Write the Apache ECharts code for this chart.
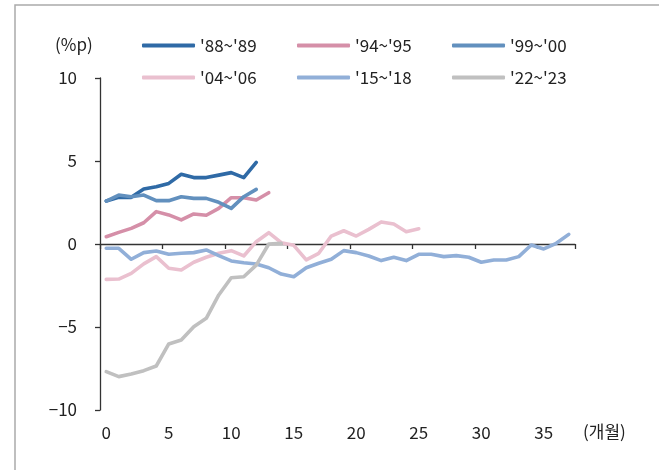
<!DOCTYPE html>
<html><head><meta charset="utf-8">
<script src="https://cdn.jsdelivr.net/npm/echarts@6/dist/echarts.min.js"></script>
<style>html,body{margin:0;padding:0;background:#fff}#c{width:659px;height:470px}</style>
</head><body><div id="c"></div>
<script>
const months = Array.from({length: 38}, (_, i) => String(i));
const yTicks = [-10, -5, 0, 5, 10];
const names = ["'88~'89", "'94~'95", "'99~'00", "'04~'06", "'15~'18", "'22~'23"];
const colors = ['#2F6AA6', '#D58FA8', '#6290BE', '#EAC0CF', '#91AFD8', '#C0C0C0'];
const s8889 = [2.59, 2.81, 2.81, 3.31, 3.45, 3.65, 4.2, 4.0, 4.0, 4.15, 4.3, 4.0, 4.92];
const s9495 = [0.44, 0.70, 0.94, 1.28, 1.95, 1.75, 1.45, 1.81, 1.73, 2.15, 2.79, 2.79, 2.65, 3.09];
const s9900 = [2.59, 2.95, 2.85, 2.95, 2.61, 2.61, 2.85, 2.75, 2.75, 2.51, 2.15, 2.85, 3.29];
const s0406 = [-2.13, -2.11, -1.77, -1.2, -0.76, -1.46, -1.57, -1.1, -0.8, -0.56, -0.40, -0.72, 0.14, 0.68, 0.08, -0.08, -0.96, -0.56, 0.48, 0.80, 0.48, 0.88, 1.33, 1.2, 0.74, 0.92];
const s1518 = [-0.26, -0.26, -0.92, -0.52, -0.42, -0.62, -0.56, -0.52, -0.36, -0.7, -1.02, -1.13, -1.2, -1.43, -1.81, -1.97, -1.43, -1.16, -0.92, -0.4, -0.52, -0.72, -1.0, -0.8, -1.0, -0.62, -0.62, -0.76, -0.7, -0.8, -1.1, -0.96, -0.96, -0.76, -0.06, -0.3, 0.04, 0.58];
const s2223 = [-7.69, -7.99, -7.83, -7.63, -7.35, -6.02, -5.78, -4.98, -4.48, -3.07, -2.03, -1.97, -1.27, 0.0, 0.04];
const seriesData = [s8889, s9495, s9900, s0406, s1518, s2223];

const FONT = "'Noto Sans CJK KR', 'Noto Sans', sans-serif";
const chart = echarts.init(document.getElementById('c'), null, {renderer: 'canvas'});
const legendPos = [[142, 37], [297, 37], [452, 37], [142, 69], [297, 69], [452, 69]];
chart.setOption({
  animation: false,
  grid: {left: 100, right: 84, top: 78, bottom: 60, containLabel: false},
  legend: names.map((n, i) => ({
    data: [n], left: legendPos[i][0], top: legendPos[i][1],
    icon: 'roundRect', itemWidth: 53, itemHeight: 4, itemGap: 0,
    padding: 0,
    textStyle: {fontFamily: FONT, fontSize: 17, color: '#222', padding: [0, 0, 0, 0]}
  })),
  xAxis: [{
    type: 'category', data: months, boundaryGap: true,
    axisLine: {onZero: true, lineStyle: {color: '#333', width: 1.3}},
    axisTick: {show: true, inside: false, interval: 4, length: 5, lineStyle: {color: '#333', width: 1.3}},
    axisLabel: {show: false}, splitLine: {show: false}
  }, {
    type: 'category', data: months, boundaryGap: true, position: 'bottom',
    axisLine: {show: false}, axisTick: {show: false},
    axisLabel: {show: true, interval: 4, margin: 14, fontFamily: FONT, fontSize: 17, color: '#222'}
  }],
  yAxis: {
    type: 'value', min: yTicks[0], max: yTicks[yTicks.length - 1], interval: 5,
    axisLine: {show: true, lineStyle: {color: '#333', width: 1.3}},
    axisTick: {show: true, length: 5, lineStyle: {color: '#333', width: 1.3}},
    splitLine: {show: false},
    axisLabel: {margin: 23, fontFamily: FONT, fontSize: 17, color: '#222',
      formatter: v => (v < 0 ? '\u2212' + Math.abs(v) : String(v))}
  },
  graphic: [
    {type: 'rect', shape: {x: 15, y: 5, width: 700, height: 500}, style: {fill: 'none', stroke: '#aaa', lineWidth: 1.5}, silent: true},
    {type: 'text', left: 55, top: 36, style: {text: '(%p)', font: '17px ' + FONT, fill: '#222'}},
    {type: 'text', left: 583, top: 423, style: {text: '(개월)', font: '17px ' + FONT, fill: '#222'}}
  ],
  series: names.map((n, i) => ({
    name: n, type: 'line', data: seriesData[i], xAxisIndex: 0,
    showSymbol: false, symbol: 'none',
    lineStyle: {color: colors[i], width: 3.6, cap: 'round', join: 'round'},
    itemStyle: {color: colors[i]},
    z: i === 5 ? 5 : 3
  }))
});
</script></body></html>
